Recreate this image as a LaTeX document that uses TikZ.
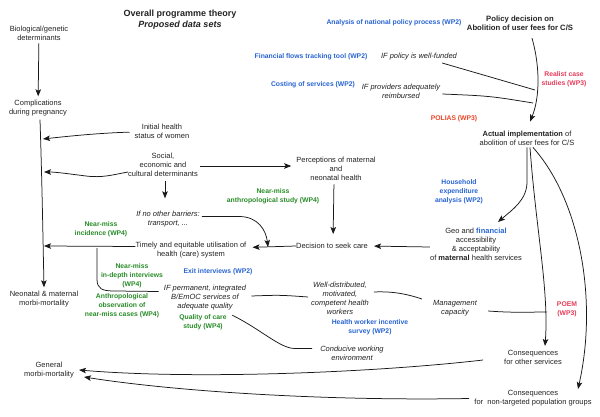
\documentclass[tikz,border=0pt]{standalone}
\usepackage{fontspec}
\setmainfont{Liberation Sans}
\usetikzlibrary{arrows.meta}
\definecolor{wpblue}{RGB}{40,100,210}
\definecolor{wpgreen}{RGB}{40,140,40}
\definecolor{wpred}{RGB}{230,60,90}
\definecolor{wporange}{RGB}{235,70,40}
\definecolor{txtgray}{RGB}{35,35,35}
\begin{document}
\begin{tikzpicture}[x=1pt,y=-1pt,
  every node/.style={inner sep=0pt, align=center, text=txtgray},
  txt/.style={font=\fontsize{7.5}{9}\selectfont},
  itx/.style={font=\fontsize{7.5}{9}\selectfont\itshape},
  lab/.style={font=\fontsize{6.8}{8.8}\selectfont\bfseries},
  gr/.style={lab,text=wpgreen},
  bl/.style={lab,text=wpblue},
  rd/.style={lab,text=wpred},
  og/.style={lab,text=wporange},
  conn/.style={line width=0.75pt, draw=black!90},
  arr/.style={conn,-{Stealth[length=7pt,width=5.5pt,inset=1.5pt]}},
]
\path[use as bounding box,fill=white] (0,0) rectangle (600,417);

% title
\node[font=\fontsize{9}{11}\selectfont\bfseries] (title) at (180,19.5) {Overall programme theory\\\textit{Proposed data sets}};

% main nodes
\node[txt] (bio) at (39,33) {Biological/genetic\\determinants};
\node[txt] (comp) at (38,108.5) {Complications\\during pregnancy};
\node[txt] (neo) at (44,299.5) {Neonatal \& maternal\\morbi-mortality};
\node[txt] (gen) at (49,370) {General\\morbi-mortality};
\node[txt] (init) at (162,131) {Initial health\\status of women};
\node[txt] (soc) at (163,165) {Social,\\economic and\\cultural determinants};
\node[txt] (perc) at (336,169) {Perceptions of maternal\\and\\neonatal health};
\node[itx] (ifno) at (168,219.5) {If no other barriers:\\transport, ...};
\node[txt] (tim) at (191,250.5) {Timely and equitable utilisation of\\health (care) system};
\node[txt] (dec) at (332,246) {Decision to seek care};
\node[txt] (geo) at (476,244.5) {Geo and {\color{wpblue}\bfseries financial}\\accessibility\\\& acceptability\\of \textbf{maternal} health services};
\node[txt] (act) at (527,138) {\textbf{Actual implementation} of\\abolition of user fees for C/S};
\node[font=\fontsize{7.7}{9.2}\selectfont\bfseries] (pol) at (520,23.5) {Policy decision on\\Abolition of user fees for C/S};
\node[itx] (ifpol) at (419,57) {IF policy is well-funded};
\node[itx] (ifprov) at (401,91.5) {IF providers adequately\\reimbursed};
\node[itx] (ifperm) at (205,298) {IF permanent, integrated\\B/EmOC services of\\adequate quality};
\node[itx] (well) at (340,298.5) {Well-distributed,\\motivated,\\competent health\\workers};
\node[itx] (cond) at (352,353) {Conducive working\\environment};
\node[itx] (mgmt) at (455,308.5) {Management\\capacity};
\node[txt] (coth) at (533,357.5) {Consequences\\for other services};
\node[txt] (cnon) at (533,398.5) {Consequences\\for\ \ non-targeted population groups};

% data set labels
\node[bl] (ana) at (394,23) {Analysis of national policy process (WP2)};
\node[bl] (fft) at (311,57) {Financial flows tracking tool (WP2)};
\node[bl] (cost) at (313,85) {Costing of services (WP2)};
\node[rd] (real) at (564,79) {Realist case\\studies (WP3)};
\node[og] (polias) at (454,119) {POLIAS (WP3)};
\node[bl] (hh) at (459,192) {Household\\expenditure\\analysis (WP2)};
\node[gr] (nmas) at (273,196) {Near-miss\\anthropological study (WP4)};
\node[gr] (nmi) at (101,229.5) {Near-miss\\incidence (WP4)};
\node[gr] (nmid) at (132,276) {Near-miss\\in-depth interviews\\(WP4)};
\node[bl] (exit) at (218,272) {Exit interviews (WP2)};
\node[gr] (aobs) at (122,306) {Anthropological\\observation of\\near-miss cases (WP4)};
\node[gr] (qoc) at (203,322) {Quality of care\\study (WP4)};
\node[bl] (hwis) at (370,327.5) {Health worker incentive\\survey (WP2)};
\node[rd] (poem) at (567,309.5) {POEM\\(WP3)};

% junction coordinates
\coordinate (jInit) at (43,139);
\coordinate (jSoc) at (44,172);
\coordinate (jTim) at (44,246);
\coordinate (jBr) at (97,248);
\coordinate (jDec) at (268,247);
\coordinate (jPol1) at (535,90);
\coordinate (jPol2) at (533,103);
\coordinate (jMg) at (547,312);
\coordinate (jGeo) at (498,222);
\coordinate (jNon) at (578,389);
\coordinate (jOth) at (545,346);

% connectors
\draw[arr,shorten <=3pt,shorten >=4pt] (bio) -- (comp);
\draw[arr] ([xshift=2pt,yshift=-3pt]comp.south) .. controls (42,180) and (43,240) .. ([yshift=4pt]neo.north);
\draw[arr,shorten <=5pt] ([yshift=-1pt]init.west) .. controls (100,133) and (70,136) .. (jInit);
\draw[arr] ([yshift=-7pt]soc.west) .. controls (112,175) and (102,178) .. (86,176) .. controls (70,174) and (56,172) .. (jSoc);
\draw[arr,shorten <=2pt,shorten >=5pt] ([yshift=-1pt]soc.east) -- ([yshift=3pt]perc.west);
\draw[arr,shorten <=4pt,shorten >=13pt] ([xshift=2pt]soc.south) -- ([xshift=-3pt]ifno.north);
\draw[arr,shorten <=2pt] ([yshift=3pt]ifno.east) -- (240,216.5) .. controls (258,217) and (266,230) .. (jDec);
\draw[arr,shorten <=3.5pt,shorten >=9pt] ([xshift=-2pt]perc.south) -- ([xshift=1pt]dec.north);
\draw[arr,shorten >=6pt] ([yshift=-2.5pt]geo.west) -- (dec.east);
\draw[arr,shorten >=6pt] (dec.west) -- ([yshift=3pt]tim.east);
\draw[arr] ([yshift=4pt]tim.west) -- (jTim);
\draw[conn] (jBr) -- (97,279) .. controls (97,289) and (102,291) .. (115,291) -- ([xshift=-5pt,yshift=6.5pt]ifperm.west);
\draw[conn] ([xshift=5pt,yshift=2pt]ifperm.east) .. controls (280,295) .. ([xshift=-3pt,yshift=1.5pt]well.west);
\draw[conn] ([xshift=-14pt,yshift=-4.5pt]ifperm.south east) .. controls (262,330) and (280,348.5) .. (295,348.5) -- ([xshift=-8pt,yshift=4.5pt]cond.west);
\draw[conn] ([xshift=5pt,yshift=6.5pt]well.east) .. controls (395,291) and (410,295) .. ([xshift=-11pt,yshift=9.5pt]mgmt.west);
\draw[conn] ([xshift=11pt,yshift=-2.5pt]mgmt.east) .. controls (515,313) and (530,312) .. (jMg);
\draw[arr] ([xshift=-21pt,yshift=-2.5pt]coth.west) .. controls (380,372) and (200,380) .. ([xshift=5pt]gen.east);
\draw[arr] ([xshift=-5pt]cnon.west) .. controls (330,401) and (180,392) .. ([xshift=10pt,yshift=-7pt]gen.east);
\draw[arr] ([xshift=12pt,yshift=-7pt]pol.south) .. controls (541,70) and (539,100) .. ([xshift=3pt,yshift=9pt]act.north);
\draw[conn] ([xshift=-15pt,yshift=-6pt]ifpol.east) .. controls (480,74) .. (jPol1);
\draw[conn] ([xshift=2pt,yshift=-2.5pt]ifprov.east) .. controls (490,96) .. (jPol2);
\draw[arr] ([yshift=-2pt]act.south) -- (527,182) .. controls (527,200) and (512,210) .. (jGeo);
\draw[arr] ([xshift=3pt,yshift=-2pt]act.south) .. controls (536,230) and (549,290) .. (jOth);
\draw[arr] ([xshift=6pt,yshift=-2pt]act.south) .. controls (580,200) and (598,300) .. (jNon);
\end{tikzpicture}
\end{document}
